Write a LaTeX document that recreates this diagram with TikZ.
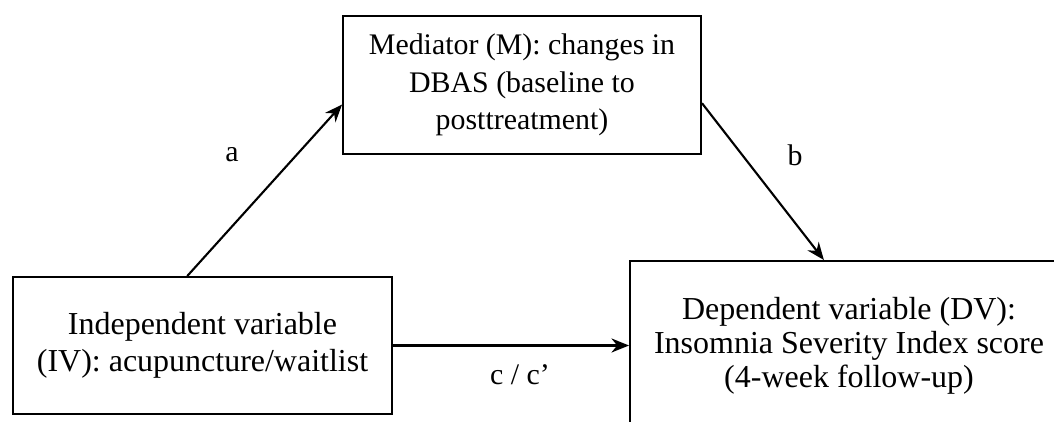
\documentclass[tikz,border=0pt]{standalone}
\usepackage{fontspec}
\setmainfont{Liberation Serif}
\usetikzlibrary{arrows.meta,calc}
\begin{document}
\begin{tikzpicture}[font=\fontsize{17}{21.5}\selectfont,
  varbox/.style={draw,line width=1.1pt,align=center,inner sep=0pt},
  path/.style={line width=1.2pt,-{Stealth[length=10pt,width=8pt]}}]
  % page
  \useasboundingbox (0,0) rectangle (21.08,8.44);

  % variables
  \node[varbox,minimum width=7.16cm,minimum height=2.76cm] (med) at (10.44,6.74)
    {Mediator (M): changes in\\DBAS (baseline to\\posttreatment)};
  \node[varbox,minimum width=7.58cm,minimum height=2.74cm,
    font=\fontsize{18.2}{21}\selectfont] (iv) at (4.05,1.53)
    {Independent variable\\(IV): acupuncture/waitlist};
  \node[varbox,minimum width=8.76cm,minimum height=3.38cm,
    font=\fontsize{18.2}{19.4}\selectfont] (dv) at (16.98,1.53)
    {Dependent variable (DV):\\Insomnia Severity Index score\\(4-week follow-up)};

  % paths
  \draw[path] ($(iv.north west)!0.46!(iv.north east)$) -- ($(med.north west)!0.64!(med.south west)$);
  \draw[path] ($(med.north east)!0.63!(med.south east)$) -- ($(dv.north west)!0.443!(dv.north east)$);
  \draw[path] (iv.east) -- (iv.east -| dv.west);

  % labels
  \node (la) at (4.64,5.34) {a};
  \node (lb) at (15.9,5.34) {b};
  \node (lc) at (10.4,0.94) {c / c’};
\end{tikzpicture}
\end{document}
